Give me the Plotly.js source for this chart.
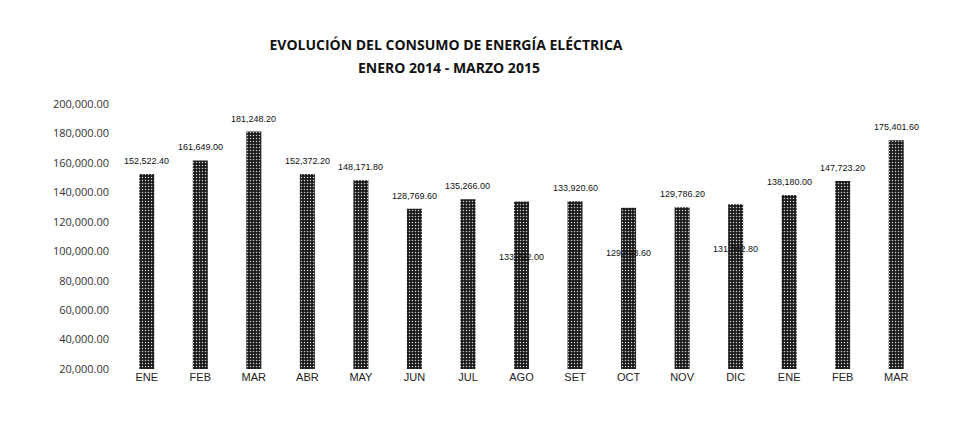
<!DOCTYPE html>
<html>
<head>
<meta charset="utf-8">
<script src="https://cdn.plot.ly/plotly-3.0.1.min.js"></script>
<style>html,body{margin:0;padding:0;background:#fff;}#chart{width:973px;height:434px;}</style>
</head>
<body>
<div id="chart"></div>
<script>
const months = ["ENE","FEB","MAR","ABR","MAY","JUN","JUL","AGO","SET","OCT","NOV","DIC","ENE","FEB","MAR"];
const consumo = [152522.40,161649.00,181248.20,152372.20,148171.80,128769.60,135266.00,133722.00,133920.60,129448.60,129786.20,131862.80,138180.00,147723.20,175401.60];
const yTicks = [20000,40000,60000,80000,100000,120000,140000,160000,180000,200000];
const titleLine1 = 'EVOLUCIÓN DEL CONSUMO DE ENERGÍA ELÉCTRICA';
const titleLine2 = 'ENERO 2014 - MARZO 2015';

const idx = months.map((m,i)=>i);
const fmt = v => v.toLocaleString('en-US',{minimumFractionDigits:2,maximumFractionDigits:2});
const lowLabels = {7:-62, 9:-52, 11:-52};

const trace = {
  type:'bar', x: idx, y: consumo,
  marker:{color:'#1a1a1a', pattern:{shape:'.', fgcolor:'#cfcfcf', bgcolor:'#1a1a1a', size:3, solidity:0.2}, line:{width:0}},
  width:0.28, hoverinfo:'skip'
};

const annotations = consumo.map((v,i)=>({
  x:i, y:v, xref:'x', yref:'y', text: fmt(v), showarrow:false,
  yanchor:'bottom', yshift: (i in lowLabels) ? lowLabels[i] : 6,
  font:{family:'Liberation Sans, Arial, sans-serif', size:9, color:'#111'}
}));
annotations.push({
  text:'<b>'+titleLine2+'</b>', xref:'paper', yref:'paper', x:(449-120)/803, y:(369-67)/265,
  xanchor:'center', yanchor:'middle', showarrow:false,
  font:{family:'Open Sans, Liberation Sans, sans-serif', size:14, color:'#111'}
});

const layout = {
  width:973, height:434,
  paper_bgcolor:'#fff', plot_bgcolor:'#fff',
  margin:{l:120, r:50, t:104, b:65},
  title:{text:'<b>'+titleLine1+'</b>',
         x:446/973, xref:'container', xanchor:'center', y:1-45/434, yref:'container', yanchor:'middle',
         font:{family:'Open Sans, Liberation Sans, sans-serif', size:14, color:'#111'}},
  xaxis:{range:[-0.5, months.length-0.5], tickvals: idx, ticktext: months, showgrid:false, zeroline:false,
         showline:false, ticks:'', tickfont:{family:'Liberation Sans, Arial, sans-serif', size:11, color:'#222'}},
  yaxis:{range:[20000,200000], tickvals: yTicks, ticktext: yTicks.map(fmt), showgrid:false, zeroline:false,
         showline:false, ticks:'', ticklabelstandoff:10,
         tickfont:{family:'Open Sans, Liberation Sans, sans-serif', size:11, color:'#333'}},
  showlegend:false,
  annotations: annotations
};

Plotly.newPlot('chart',[trace],layout,{displayModeBar:false, staticPlot:true});
</script>
</body>
</html>
